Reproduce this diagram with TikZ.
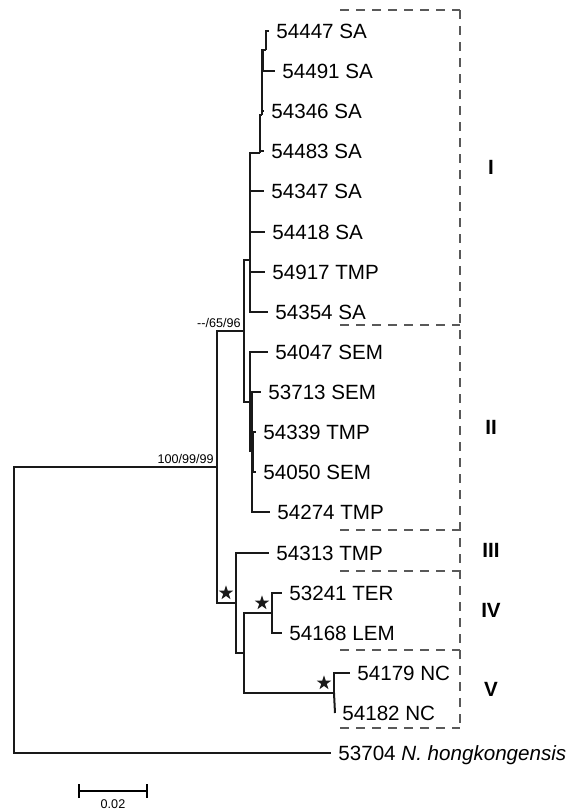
\documentclass[tikz,border=0pt]{standalone}
\usepackage{fontspec}
\setmainfont{Liberation Sans}
\usetikzlibrary{shapes.geometric,arrows.meta}

\tikzset{
  branch/.style={line width=1pt, draw=black!90},
  leaf/.style={anchor=west, inner xsep=3.5pt, inner ysep=0pt, text height=7.4pt, text depth=0pt,
    font=\fontsize{10.3}{12}\selectfont},
  support/.style={anchor=south east, inner sep=1.5pt, font=\fontsize{6.3}{7}\selectfont},
  clade/.style={font=\fontsize{10.3}{12}\selectfont\bfseries},
  boxline/.style={dash pattern=on 4.5pt off 3.5pt, line width=0.6pt, draw=black!65},
  boot/.style={star, star points=5, star point ratio=2.6, fill=black!90, inner sep=0pt,
    minimum size=7.6pt, xshift=-5pt, yshift=5pt},
}

\begin{document}
\begin{tikzpicture}[x=0.5pt, y=-0.5pt]
    \useasboundingbox (0,0) rectangle (582,811);
    % internal nodes
    \coordinate (root) at (14,610);
    \coordinate (nA) at (217,467);
    \coordinate (nIII) at (244,331);
    \coordinate (nI) at (250,260);
    \coordinate (nIb) at (260,153);
    \coordinate (nIc) at (262,115);
    \coordinate (nId) at (263,50);
    \coordinate (nIe) at (266,50);
    \coordinate (nII) at (250,402);
    \coordinate (nIIa) at (252,451);
    \coordinate (nIIb) at (253,452);
    \coordinate (nC) at (236,603);
    \coordinate (nD) at (244,653);
    \coordinate (nIV) at (272,613);
    \coordinate (nV) at (334,693);

    % leaves
    \node[leaf] (t54447) at (269,31) {54447 SA};
    \node[leaf] (t54491) at (275,71) {54491 SA};
    \node[leaf] (t54346) at (264,111) {54346 SA};
    \node[leaf] (t54483) at (264,151) {54483 SA};
    \node[leaf] (t54347) at (264,191) {54347 SA};
    \node[leaf] (t54418) at (265,232) {54418 SA};
    \node[leaf] (t54917) at (265,272) {54917 TMP};
    \node[leaf] (t54354) at (268,312) {54354 SA};
    \node[leaf] (t54047) at (268,352) {54047 SEM};
    \node[leaf] (t53713) at (261,392) {53713 SEM};
    \node[leaf] (t54339) at (256,432) {54339 TMP};
    \node[leaf] (t54050) at (256,472) {54050 SEM};
    \node[leaf] (t54274) at (270,512) {54274 TMP};
    \node[leaf] (t54313) at (269,553) {54313 TMP};
    \node[leaf] (t53241) at (282,593) {53241 TER};
    \node[leaf] (t54168) at (282,633) {54168 LEM};
    \node[leaf] (t54179) at (350,673) {54179 NC};
    \node[leaf] (t54182) at (335,713) {54182 NC};
    \node[leaf] (t53704) at (331,753) {53704 \textit{N. hongkongensis}};

    % branches
    \draw[branch] (root) |- (nA);
    \draw[branch] (root) |- (t53704.west);
    \draw[branch] (nA) |- (nIII);
    \draw[branch] (nA) |- (nC);
    \draw[branch] (nIII) |- (nI);
    \draw[branch] (nIII) |- (nII);
    \draw[branch] (nI) |- (nIb);
    \draw[branch] (nI) |- (t54347.west);
    \draw[branch] (nI) |- (t54418.west);
    \draw[branch] (nI) |- (t54917.west);
    \draw[branch] (nI) |- (t54354.west);
    \draw[branch] (nIb) |- (t54483.west);
    \draw[branch] (nIb) |- (nIc);
    \draw[branch] (nIc) |- (t54346.west);
    \draw[branch] (nIc) |- (nId);
    \draw[branch] (nId) |- (t54491.west);
    \draw[branch] (nId) -- (nIe);
    \draw[branch] (nIe) |- (t54447.west);
    \draw[branch] (nII) |- (t54047.west);
    \draw[branch] (nII) |- (nIIa);
    \draw[branch] (nIIa) |- (t53713.west);
    \draw[branch] (nIIa) |- (t54274.west);
    \draw[branch] (nIIa) -- (nIIb);
    \draw[branch] (nIIb) |- (t54339.west);
    \draw[branch] (nIIb) |- (t54050.west);
    \draw[branch] (nC) |- (t54313.west);
    \draw[branch] (nC) |- (nD);
    \draw[branch] (nD) |- (nIV);
    \draw[branch] (nD) |- (nV);
    \draw[branch] (nIV) |- (t53241.west);
    \draw[branch] (nIV) |- (t54168.west);
    \draw[branch] (nV) |- (t54179.west);
    \draw[branch] (nV) -- (t54182.west);

    % support values
    \node[support] (sA) at (nA) {100/99/99};
    \node[support] (sIII) at (nIII) {-{}-/65/96};
    \node[boot] (bC) at (nC) {};
    \node[boot] (bIV) at (nIV) {};
    \node[boot] (bV) at (nV) {};

    % clade boxes
    \foreach \y in {10,325,530,571,650,728}
        \draw[boxline] (340,\y) -- (460,\y);
    \draw[boxline] (460,10) -- (460,728);
    \node[clade] (cI) at (491,167) {I};
    \node[clade] (cII) at (491,427) {II};
    \node[clade] (cIII) at (491,550) {III};
    \node[clade] (cIV) at (491,610) {IV};
    \node[clade] (cV) at (491,689) {V};

    % scale bar
    \coordinate (sbl) at (78,791);
    \coordinate (sbr) at (148,791);
    \draw[line width=1pt, {Bar[width=7pt]}-{Bar[width=7pt]}] (sbl) -- (sbr);
    \node[font=\fontsize{6.3}{7}\selectfont, anchor=north, inner sep=0.5pt] (sbt) at (113,798) {0.02};
\end{tikzpicture}
\end{document}
